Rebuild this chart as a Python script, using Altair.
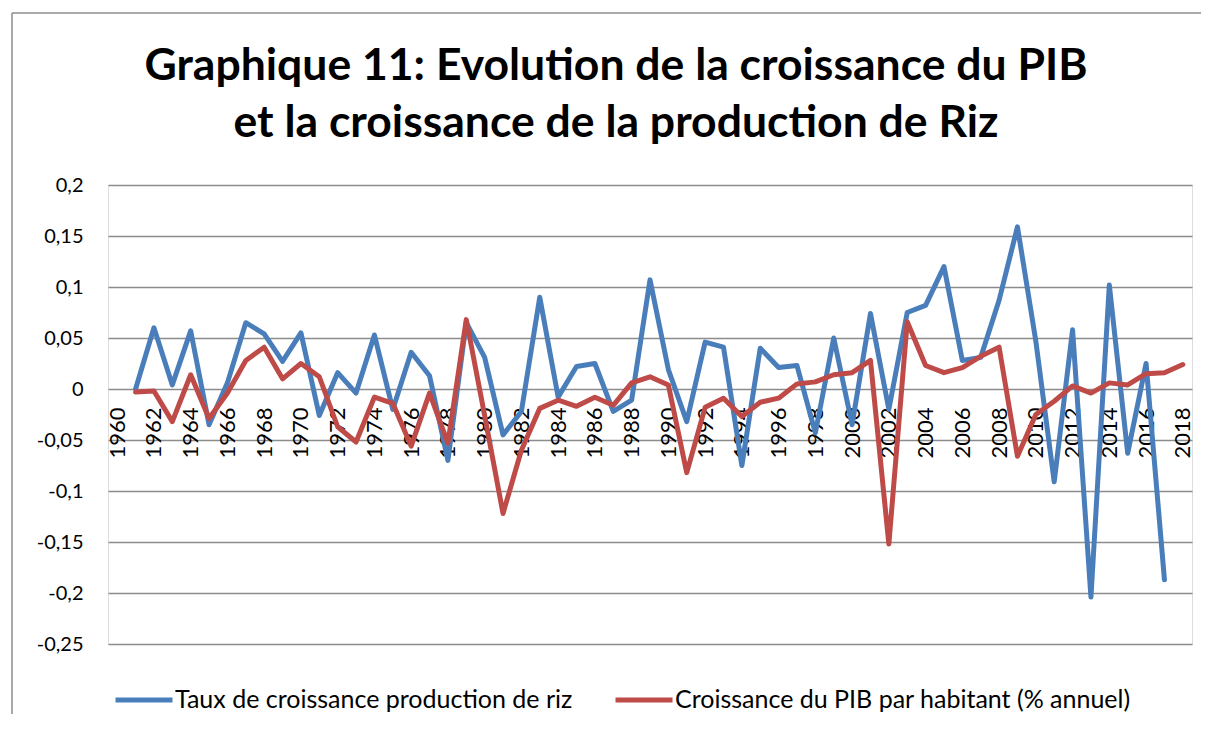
import altair as alt
import pandas as pd

years_riz = list(range(1961, 2018))
riz = [0.0, 0.06, 0.004, 0.057, -0.035, 0.006, 0.065, 0.054, 0.027, 0.055,
       -0.026, 0.016, -0.004, 0.053, -0.02, 0.036, 0.013, -0.07, 0.065, 0.031,
       -0.045, -0.022, 0.09, -0.008, 0.022, 0.025, -0.022, -0.011, 0.107, 0.019,
       -0.032, 0.046, 0.041, -0.075, 0.040, 0.021, 0.023, -0.043, 0.050, -0.035,
       0.074, -0.02, 0.075, 0.082, 0.12, 0.028, 0.031, 0.087, 0.159, 0.047,
       -0.091, 0.058, -0.204, 0.102, -0.063, 0.025, -0.187]

years_pib = list(range(1961, 2019))
pib = [-0.003, -0.002, -0.032, 0.014, -0.029, -0.004, 0.028, 0.041, 0.010, 0.025,
       0.012, -0.037, -0.052, -0.008, -0.014, -0.056, -0.004, -0.053, 0.068, -0.026,
       -0.122, -0.06, -0.019, -0.011, -0.017, -0.008, -0.016, 0.006, 0.012, 0.004,
       -0.082, -0.018, -0.009, -0.027, -0.013, -0.009, 0.005, 0.007, 0.014, 0.016,
       0.028, -0.152, 0.066, 0.023, 0.016, 0.021, 0.032, 0.041, -0.066, -0.025,
       -0.012, 0.003, -0.004, 0.006, 0.004, 0.015, 0.016, 0.024]

series = ["Taux de croissance production de riz",
          "Croissance du PIB par habitant (% annuel)"]
colors = ["#4A7EBB", "#BE4B48"]

x_ticks = list(range(1960, 2019, 2))
y_ticks = [-0.25, -0.2, -0.15, -0.1, -0.05, 0, 0.05, 0.1, 0.15, 0.2]

title_lines = ["Graphique 11: Evolution de la croissance du PIB",
               "et la croissance de la production de Riz"]

rows = [{"annee": a, "valeur": v, "serie": series[0]} for a, v in zip(years_riz, riz)]
rows += [{"annee": a, "valeur": v, "serie": series[1]} for a, v in zip(years_pib, pib)]
df = pd.DataFrame(rows)

W, H = 1084, 459

lines = alt.Chart(df).mark_line(strokeWidth=5, strokeJoin="round", strokeCap="round").encode(
    x=alt.X("annee:Q",
            scale=alt.Scale(domain=[1959.5, 2018.5], nice=False, zero=False),
            axis=alt.Axis(values=x_ticks, format="d", labelAngle=-90, labelAlign="right",
                          labelBaseline="middle", labelPadding=18, offset=-255,
                          domain=False, ticks=False, grid=False, labelFont="Lato",
                          labelFontSize=22, labelColor="black", title=None,
                          labelOverlap=False)),
    y=alt.Y("valeur:Q",
            scale=alt.Scale(domain=[-0.25, 0.2], nice=False),
            axis=alt.Axis(values=y_ticks, labelExpr="replace('' + datum.value, '.', ',')",
                          grid=True, gridColor="#8c8c8c", gridWidth=1.5, domain=False,
                          ticks=False, labelPadding=25, labelFont="Lato", labelFontSize=20,
                          labelColor="black", title=None)),
    color=alt.Color("serie:N",
                    scale=alt.Scale(domain=series, range=colors),
                    legend=alt.Legend(orient="none", legendX=5, legendY=484,
                                      direction="horizontal", symbolType="stroke",
                                      symbolStrokeWidth=5, symbolSize=3249,
                                      labelFont="Lato", labelFontSize=25,
                                      labelColor="black", labelLimit=600,
                                      title=None, columnPadding=32, labelOffset=0,
                                      padding=0)),
    order=alt.Order("annee:Q"),
)

frame_data = alt.Data(values=[{}])
left_border = alt.Chart(frame_data).mark_rule(color="#8c8c8c", strokeWidth=1.5).encode(
    x=alt.value(-96), y=alt.value(-172), y2=alt.value(540))
top_border = alt.Chart(frame_data).mark_rule(color="#8c8c8c", strokeWidth=1.5).encode(
    x=alt.value(-96), x2=alt.value(W + 9), y=alt.value(-172))

chart = alt.layer(lines, left_border, top_border).properties(
    width=W, height=H,
    padding={"left": 100, "top": 177, "right": 9, "bottom": 70},
    autosize="none",
    title=alt.TitleParams(text=title_lines, font="Lato", fontSize=44.5, fontWeight="bold",
                          color="black", anchor="middle", lineHeight=57, offset=-134, dx=-34),
).configure_view(stroke=None).configure(background="white")

chart.save("out.html", embed_options={"renderer": "svg", "actions": False})
